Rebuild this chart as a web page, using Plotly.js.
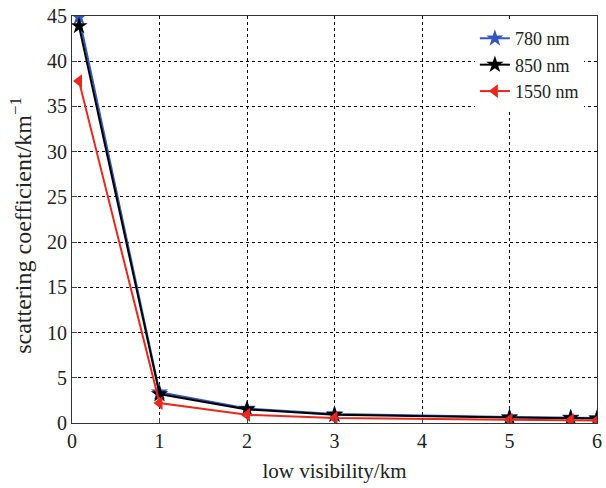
<!DOCTYPE html>
<html>
<head>
<meta charset="utf-8">
<script src="https://cdn.plot.ly/plotly-3.0.1.min.js"></script>
<style>html,body{margin:0;padding:0;background:#fff;}#chart{width:606px;height:488px;}</style>
</head>
<body>
<div id="chart"></div>
<script>
const visibility = [0.08, 1, 2, 3, 5, 5.7, 6];
const s780 = [44.9, 3.4, 1.6, 1.0, 0.65, 0.6, 0.55];
const s850 = [43.9, 3.2, 1.5, 0.9, 0.6, 0.55, 0.5];
const s1550 = [37.8, 2.2, 0.9, 0.55, 0.35, 0.3, 0.28];
const names = ["780 nm", "850 nm", "1550 nm"];
const xTicks = [0, 1, 2, 3, 4, 5, 6];
const yTicks = [0, 5, 10, 15, 20, 25, 30, 35, 40, 45];

const traces = [
  {x: visibility, y: s780, name: names[0], mode: "lines+markers",
   line: {color: "#3355c0", width: 2}, marker: {symbol: "star", size: 13, color: "#3355c0"}},
  {x: visibility, y: s850, name: names[1], mode: "lines+markers",
   line: {color: "#000000", width: 2}, marker: {symbol: "star", size: 13, color: "#000000"}},
  {x: visibility, y: s1550, name: names[2], mode: "lines+markers",
   line: {color: "#e8281e", width: 2}, marker: {symbol: "triangle-left", size: 12, color: "#e8281e"}}
];

const FAM = "Liberation Serif";
const font = {family: FAM, size: 20, color: "#222"};
const layout = {
  width: 606, height: 488,
  margin: {l: 72, r: 9, t: 16, b: 65},
  paper_bgcolor: "#fff", plot_bgcolor: "#fff",
  font: font,
  showlegend: true,
  legend: {x: 0.975, y: 0.99, xanchor: "right", yanchor: "top", bgcolor: "#fff",
           borderwidth: 0, font: {family: FAM, size: 18, color: "#222"}, tracegroupgap: 0, itemwidth: 30},
  xaxis: {range: [0, 6], tickvals: xTicks, ticktext: xTicks.map(String),
          showgrid: true, gridcolor: "#000", griddash: "3px,3px", gridwidth: 1,
          showline: true, linecolor: "#333", linewidth: 1, mirror: true,
          ticks: "inside", ticklen: 5, zeroline: false, tickfont: {family: FAM, size: 20, color: "#222"},
          title: {text: "low visibility/km", font: {family: FAM, size: 21, color: "#222"}, standoff: 12}},
  yaxis: {range: [0, 45], tickvals: yTicks, ticktext: yTicks.map(String),
          showgrid: true, gridcolor: "#000", griddash: "3px,3px", gridwidth: 1,
          showline: true, linecolor: "#333", linewidth: 1, mirror: true,
          ticks: "inside", ticklen: 5, zeroline: false, tickfont: {family: FAM, size: 20, color: "#222"},
          title: {text: "scattering coefficient/km<sup>\u22121</sup>&nbsp;&nbsp;", font: {family: FAM, size: 24, color: "#222"}, standoff: 8}}
};
Plotly.newPlot("chart", traces, layout, {displayModeBar: false, staticPlot: true});
</script>
</body>
</html>
